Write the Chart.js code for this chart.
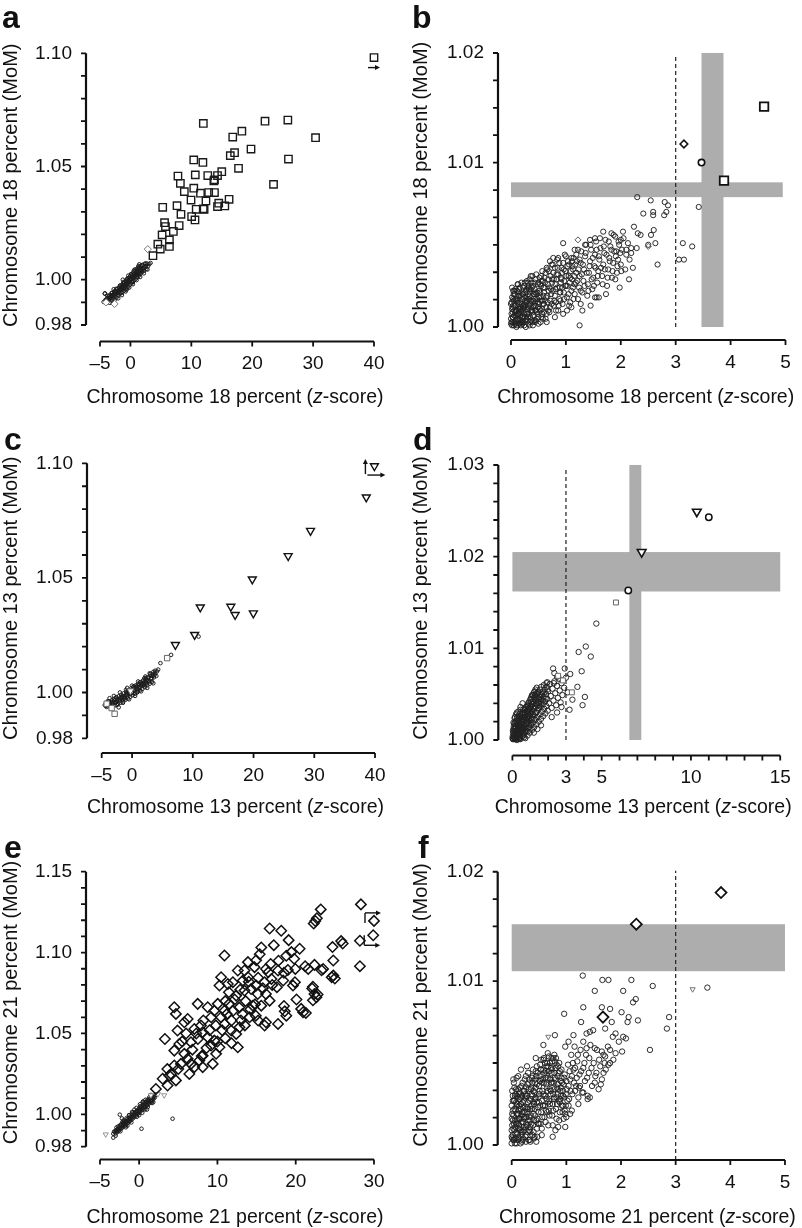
<!DOCTYPE html>
<html lang="en">
<head>
<meta charset="UTF-8" />
<title>Chromosome percent: z-score vs MoM</title>
<script src="https://cdn.jsdelivr.net/npm/chart.js"></script>
<style>
  body { margin: 0; background: #fff; width: 802px; height: 1228px; position: relative; overflow: hidden; }
  canvas { position: absolute; }
  .letter { position: absolute; font: bold 32px "Liberation Sans", Arial, sans-serif; line-height: 1; color: #111; }
</style>
</head>
<body>
<canvas id="pa" width="401" height="410" style="left:0;top:0"></canvas>
<canvas id="pb" width="401" height="410" style="left:401px;top:0"></canvas>
<canvas id="pc" width="401" height="410" style="left:0;top:410px"></canvas>
<canvas id="pd" width="401" height="410" style="left:401px;top:410px"></canvas>
<canvas id="pe" width="401" height="408" style="left:0;top:820px"></canvas>
<canvas id="pf" width="401" height="408" style="left:401px;top:820px"></canvas>
<div class="letter" style="left:2px;top:1px">a</div>
<div class="letter" style="left:412px;top:1px">b</div>
<div class="letter" style="left:4px;top:423px">c</div>
<div class="letter" style="left:413px;top:423px">d</div>
<div class="letter" style="left:4px;top:831px">e</div>
<div class="letter" style="left:418px;top:831px">f</div>
<script>
// ---------- tick positions ----------
const xTicksWide = [-5, 0, 10, 20, 30, 40];
const xTicksE = [-5, 0, 10, 20, 30];
const xTicks05 = [0, 1, 2, 3, 4, 5];
const xTicksD = [0, 3, 5, 10, 15];
const xMinorD = [0, 1, 2, 3, 4, 5, 6, 7, 8, 9, 10, 11, 12, 13, 14, 15];
const yTicksAC = [0.98, 1.00, 1.05, 1.10];
const yMinorAC = [0.98, 0.99, 1.00, 1.01, 1.02, 1.03, 1.04, 1.05, 1.06, 1.07, 1.08, 1.09, 1.10];
const yTicksE = [0.98, 1.00, 1.05, 1.10, 1.15];
const yMinorE = [0.98, 0.99, 1.00, 1.01, 1.02, 1.03, 1.04, 1.05, 1.06, 1.07, 1.08, 1.09, 1.10, 1.11, 1.12, 1.13, 1.14, 1.15];
const yTicksBF = [1.00, 1.01, 1.02];
const yMinorBF = [1.0, 1.00167, 1.00333, 1.005, 1.00667, 1.00833, 1.01, 1.0125, 1.015, 1.0175, 1.02];
const yTicksD = [1.00, 1.01, 1.02, 1.03];
const yMinorD = [1.000, 1.002, 1.004, 1.006, 1.008, 1.010, 1.012, 1.014, 1.016, 1.018, 1.020, 1.022, 1.024, 1.026, 1.028, 1.030];
// the zoomed MoM axes of b and f are stretched below 1.01
const knotValsBF = [1.00, 1.01, 1.02];
const knotPosBF = [0, 0.6, 1];

// ---------- panel a : chromosome 18 ----------
const aT18 = [[40.0,1.0981],[11.97,1.0690],[22.1,1.0700],[25.85,1.0705],[18.3,1.0656],[16.8,1.0630],[30.4,1.0627],
  [19.8,1.0577],[17.1,1.0561],[16.4,1.0548],[25.95,1.0533],[10.4,1.0529],[11.9,1.0518],[17.75,1.0492],[7.8,1.0458],
  [10.65,1.0463],[12.7,1.0460],[14.3,1.0460],[15.0,1.0477],[13.8,1.0441],[8.2,1.0426],[23.5,1.0421],[8.85,1.0389],
  [10.4,1.0404],[11.5,1.0382],[12.85,1.0385],[13.8,1.0385],[9.95,1.0352],[12.4,1.0348],[14.5,1.0338],[16.2,1.0355],
  [15.5,1.0326],[5.3,1.0320],[7.65,1.0327],[10.8,1.0311],[11.95,1.0313],[8.3,1.0289],[10.05,1.0279],[10.6,1.0264],
  [5.6,1.0252],[5.75,1.0235],[8.0,1.0239],[7.05,1.0213],[5.2,1.0198],[6.4,1.0176],[4.5,1.0157],[6.4,1.0147],
  [3.7,1.0106],[14.3,1.0323],[13.7,1.0436],[4.9,1.0135],[12.1,1.0311]];
const aOther = [[2.85,1.0135],[-4.0,0.9900],[-2.6,0.9893]];
const aNormal = [[-4.4,0.9902],[-4.2,0.9938],[-4.1,0.9911],[-3.9,0.9897],[-3.8,0.9919],[-3.6,0.9908],[-3.5,0.9930],
  [-3.4,0.9915],[-3.2,0.9926],[-3.1,0.9941],[-3.0,0.9912],[-2.9,0.9933],[-2.8,0.9920],[-2.7,0.9946],[-2.6,0.9929],
  [-2.5,0.9952],[-2.4,0.9937],[-2.3,0.9921],[-2.2,0.9958],[-2.1,0.9943],[-2.0,0.9930],[-1.9,0.9964],[-1.85,0.9949],
  [-1.7,0.9938],[-1.65,0.9971],[-1.5,0.9955],[-1.45,0.9942],[-1.3,0.9979],[-1.25,0.9962],[-1.1,0.9950],[-1.05,0.9986],
  [-0.95,0.9969],[-0.85,0.9957],[-0.8,0.9993],[-0.7,0.9976],[-0.6,0.9962],[-0.55,1.0001],[-0.45,0.9984],[-0.35,0.9969],
  [-0.3,1.0008],[-0.2,0.9991],[-0.1,0.9977],[-0.05,1.0016],[0.05,0.9998],[0.15,0.9983],[0.2,1.0023],[0.3,1.0006],
  [0.4,0.9990],[0.45,1.0031],[0.55,1.0013],[0.65,0.9998],[0.7,1.0038],[0.8,1.0020],[0.9,1.0005],[0.95,1.0045],
  [1.05,1.0027],[1.15,1.0012],[1.2,1.0051],[1.3,1.0034],[1.4,1.0019],[1.45,1.0057],[1.55,1.0040],[1.65,1.0026],
  [1.7,1.0062],[1.8,1.0046],[1.9,1.0033],[2.0,1.0066],[2.1,1.0052],[2.2,1.0040],[2.35,1.0070],[2.45,1.0057],
  [2.6,1.0047],[2.75,1.0071],[2.9,1.0060],[3.1,1.0069],[3.3,1.0074],[-1.0,0.9972],[-0.4,0.9992],[0.25,1.0010],
  [0.85,1.0031],[1.5,1.0044],[-2.2,0.9940],[-1.6,0.9958],[0.6,1.0024],[1.1,1.0040],[0.0,1.0003],[-0.6,0.9982],
  [1.75,1.0051],[-3.0,0.9925],[-4.2,0.9940],
  [-4.0,0.9910],[-3.7,0.9915],[-3.3,0.9923],[-2.95,0.9930],[-2.65,0.9935],[-2.35,0.9945],[-2.05,0.9950],
  [-1.75,0.9957],[-1.55,0.9963],[-1.35,0.9967],[-1.15,0.9973],[-0.9,0.9978],[-0.75,0.9984],[-0.5,0.9987],
  [-0.25,0.9994],[-0.15,1.0000],[0.1,1.0002],[0.35,1.0008],[0.5,1.0012],[0.75,1.0016],[1.0,1.0021],[1.25,1.0027],
  [1.35,1.0045],[1.6,1.0033],[1.85,1.0040],[2.05,1.0046],[2.3,1.0052],[2.55,1.0060],[-0.65,1.0000],[-1.2,0.9985],
  [-1.8,0.9968],[-2.5,0.9947],[-3.2,0.9932],[0.3,1.0018],[0.9,1.0026],[-0.3,0.9995],[-3.6,0.9925],[1.2,1.0030],
  [-2.0,0.9940],[-1.4,0.9955],
  [-3.8,0.9930],[-3.4,0.9898],[-3.0,0.9942],[-2.6,0.9910],[-2.3,0.9960],[-2.0,0.9918],[-1.7,0.9975],[-1.4,0.9932],
  [-1.1,0.9990],[-0.8,0.9948],[-0.5,1.0005],[-0.2,0.9965],[0.1,1.0025],[0.4,0.9980],[0.7,1.0045],[1.0,0.9998],
  [1.3,1.0060],[1.6,1.0012],[1.9,1.0063],[2.2,1.0028],[2.5,1.0072],[2.8,1.0045],[-1.25,1.0000],[-0.35,1.0018],
  [0.55,1.0040],[-2.75,0.9958],[-3.25,0.9905],[0.25,0.9990],[1.45,1.0068],[-0.65,0.9955]];

// ---------- panel b : chromosome 18, zoom ----------
const bT18 = [[4.61,1.0151],[3.88,1.0089]];
const bFlagCircle = [[3.47,1.0100]];
const bFlagDiamond = [[3.15,1.0117]];
const bOther = [[1.22,1.0053],[2.5,1.0049]];
const bNormal = [[0.02,1.0001],[0.04,1.0006],[0.03,1.0012],[0.06,1.0003],[0.08,1.0009],[0.05,1.0016],[0.1,1.0000],
  [0.11,1.0005],[0.09,1.0013],[0.12,1.0019],[0.14,1.0002],[0.15,1.0008],[0.13,1.0011],[0.17,1.0015],[0.18,1.0001],
  [0.2,1.0006],[0.19,1.0010],[0.21,1.0017],[0.23,1.0003],[0.24,1.0008],[0.22,1.0013],[0.26,1.0021],[0.27,1.0000],
  [0.28,1.0005],[0.3,1.0011],[0.29,1.0016],[0.32,1.0002],[0.33,1.0008],[0.35,1.0014],[0.34,1.0019],[0.37,1.0004],
  [0.38,1.0010],[0.36,1.0023],[0.4,1.0001],[0.41,1.0007],[0.42,1.0013],[0.44,1.0017],[0.45,1.0004],[0.46,1.0010],
  [0.48,1.0021],[0.5,1.0006],[0.49,1.0015],[0.07,1.0020],[0.01,1.0008],[0.16,1.0024],[0.25,1.0027],[0.0,1.0014],
  [0.02,1.0018],[0.11,1.0022],[0.31,1.0024],[0.03,1.0003],[0.06,1.0010],[0.09,1.0004],[0.12,1.0008],[0.15,1.0005],
  [0.18,1.0012],[0.21,1.0002],[0.24,1.0014],[0.27,1.0009],[0.3,1.0004],[0.33,1.0017],[0.36,1.0012],[0.39,1.0003],
  [0.42,1.0020],[0.45,1.0013],[0.48,1.0008],[0.51,1.0022],[0.54,1.0003],[0.57,1.0016],[0.6,1.0009],[0.04,1.0022],
  [0.13,1.0026],[0.22,1.0020],[0.31,1.0020],[0.4,1.0025],[0.08,1.0017],[0.17,1.0007],[0.26,1.0013],[0.35,1.0006],
  [0.44,1.0010],[0.52,1.0011],[0.54,1.0018],[0.55,1.0025],[0.57,1.0008],[0.58,1.0014],[0.6,1.0021],[0.61,1.0030],
  [0.63,1.0005],[0.64,1.0012],[0.66,1.0019],[0.67,1.0026],[0.69,1.0034],[0.7,1.0009],[0.72,1.0016],[0.73,1.0023],
  [0.75,1.0029],[0.76,1.0038],[0.78,1.0013],[0.8,1.0019],[0.81,1.0026],[0.83,1.0032],[0.84,1.0041],[0.86,1.0010],
  [0.88,1.0017],[0.89,1.0024],[0.91,1.0030],[0.92,1.0036],[0.94,1.0014],[0.96,1.0021],[0.97,1.0028],[0.99,1.0034],
  [1.0,1.0043],[1.02,1.0018],[1.03,1.0025],[1.05,1.0031],[1.06,1.0038],[1.08,1.0015],[1.1,1.0022],[1.11,1.0029],
  [1.13,1.0035],[1.14,1.0042],[1.16,1.0020],[1.18,1.0027],[1.19,1.0033],[0.65,1.0003],[0.8,1.0006],[0.95,1.0008],
  [1.1,1.0012],[1.22,1.0017],[1.24,1.0024],[1.25,1.0031],[1.27,1.0039],[1.28,1.0046],[1.3,1.0021],[1.32,1.0028],
  [1.33,1.0035],[1.35,1.0043],[1.37,1.0050],[1.39,1.0019],[1.4,1.0026],[1.42,1.0033],[1.44,1.0040],[1.46,1.0047],
  [1.48,1.0023],[1.5,1.0030],[1.52,1.0037],[1.53,1.0044],[1.55,1.0052],[1.57,1.0027],[1.59,1.0034],[1.61,1.0041],
  [1.63,1.0048],[1.66,1.0031],[1.68,1.0038],[1.7,1.0045],[1.72,1.0053],[1.75,1.0025],[1.77,1.0035],[1.79,1.0042],
  [1.81,1.0049],[1.84,1.0030],[1.86,1.0039],[1.88,1.0046],[1.9,1.0055],[1.93,1.0033],[1.95,1.0041],[1.97,1.0050],
  [2.0,1.0038],[2.02,1.0047],[2.05,1.0054],[2.08,1.0035],[2.1,1.0044],[2.13,1.0051],[2.16,1.0041],[2.19,1.0048],
  [1.45,1.0013],[1.6,1.0018],[1.73,1.0020],[1.3,1.0010],[2.30,1.0079],[2.545,1.0077],[2.8,1.0076],[2.86,1.0074],
  [3.42,1.0073],[2.41,1.0069],[2.59,1.0070],[2.59,1.0068],[2.79,1.0068],[2.83,1.0070],[2.24,1.0061],[2.6,1.0059],
  [2.31,1.0057],[2.36,1.0056],[2.55,1.0056],[2.04,1.0058],[1.83,1.0057],[1.68,1.0058],[2.63,1.0051],[2.5,1.0050],
  [2.29,1.0048],[3.13,1.0051],[3.30,1.0049],[3.06,1.0041],[3.15,1.0041],[2.67,1.0038],[2.22,1.0036],[2.15,1.0029],
  [1.98,1.0024],[0.95,1.0051],[1.25,1.0001],[0.77,1.0042],[0.71,1.0040],[0.65,1.0036],[0.36,1.0031],[0.31,1.0027],
  [1.53,1.0018],[1.27,1.0014],[1.56,1.0018],[2.0,1.0053],[2.1,1.0047],[2.19,1.0045],[1.92,1.0046],[2.01,1.0034],
  [1.9,1.0029],[1.53,1.0054],[1.44,1.0053],[1.35,1.0050],[1.16,1.0047],[1.1,1.0042]];
const bNormalCore = [[0.01,1.0003],[0.03,1.0009],[0.05,1.0001],[0.07,1.0013],[0.09,1.0007],[0.11,1.0016],[0.13,1.0004],
  [0.15,1.0019],[0.17,1.0011],[0.19,1.0003],[0.21,1.0020],[0.23,1.0012],[0.25,1.0006],[0.27,1.0018],[0.29,1.0008],
  [0.0,1.0005],[0.02,1.0011],[0.04,1.0017],[0.06,1.0022],[0.08,1.0002],[0.1,1.0010],[0.12,1.0015],[0.14,1.0021],
  [0.16,1.0004],[0.18,1.0009],[0.2,1.0014],[0.22,1.0024],[0.24,1.0001],[0.26,1.0016],[0.28,1.0023],[0.31,1.0006],
  [0.33,1.0013],[0.35,1.0021],[0.37,1.0027],[0.39,1.0009],[0.41,1.0016],[0.43,1.0023],[0.45,1.0029],[0.47,1.0005],
  [0.49,1.0012],[0.51,1.0018],[0.53,1.0026],[0.55,1.0031],[0.57,1.0011],[0.59,1.0019],[0.61,1.0024],[0.63,1.0033],
  [0.65,1.0008],[0.67,1.0015],[0.69,1.0022],[0.32,1.0025],[0.38,1.0016],[0.44,1.0003],[0.5,1.0027],[0.56,1.0006],
  [0.62,1.0016],[0.68,1.0029],[0.34,1.0001],[0.46,1.0020],[0.58,1.0028],[0.71,1.0012],[0.73,1.0020],[0.75,1.0027],
  [0.77,1.0033],[0.79,1.0016],[0.81,1.0023],[0.83,1.0029],[0.85,1.0036],[0.87,1.0013],[0.89,1.0021],[0.91,1.0027],
  [0.93,1.0033],[0.95,1.0039],[0.97,1.0017],[0.99,1.0025],[1.01,1.0031],[1.03,1.0037],[1.05,1.0020],[1.07,1.0027],
  [1.09,1.0034],[1.11,1.0040],[1.13,1.0024],[1.15,1.0031],[1.17,1.0038],[1.19,1.0044],[1.21,1.0028],[1.23,1.0035],
  [1.25,1.0041],[1.27,1.0022],[1.29,1.0032],[0.74,1.0038],[0.82,1.0010],[0.9,1.0016],[0.98,1.0044],[1.06,1.0013],
  [1.14,1.0017],[1.22,1.0047],[0.86,1.0042],[0.94,1.0024],[1.02,1.0010],[1.31,1.0038],[1.34,1.0025],[1.36,1.0045],
  [1.38,1.0033],[1.41,1.0022],[1.43,1.0037],[1.45,1.0050],[1.47,1.0029],[1.49,1.0042],[1.51,1.0025],[1.54,1.0036],
  [1.56,1.0047],[1.58,1.0031],[1.6,1.0043],[1.62,1.0054],[1.64,1.0036],[1.67,1.0026],[1.69,1.0049],[1.71,1.0035],
  [1.74,1.0044],[1.76,1.0030],[1.78,1.0052],[1.8,1.0040],[1.83,1.0047],[1.85,1.0034],[1.87,1.0056],[1.91,1.0043],
  [1.94,1.0037],[1.96,1.0052],[1.99,1.0045],
  [0.0,1.0002],[0.01,1.0015],[0.02,1.0024],[0.03,1.0006],[0.04,1.0013],[0.05,1.0020],[0.06,1.0007],[0.07,1.0002],
  [0.08,1.0023],[0.09,1.0010],[0.1,1.0017],[0.11,1.0001],[0.12,1.0026],[0.13,1.0008],[0.14,1.0014],[0.15,1.0023],
  [0.16,1.0011],[0.17,1.0002],[0.18,1.0019],[0.19,1.0027],[0.2,1.0003],[0.21,1.0011],[0.22,1.0006],[0.23,1.0018],
  [0.24,1.0025],[0.25,1.0012],[0.26,1.0004],[0.27,1.0022],[0.28,1.0015],[0.29,1.0028],[0.3,1.0008],[0.31,1.0017],
  [0.32,1.0012],[0.33,1.0023],[0.34,1.0029],[0.35,1.0003],[0.36,1.0016],[0.37,1.0010],[0.38,1.0024],[0.39,1.0031],
  [0.4,1.0012],[0.41,1.0020],[0.42,1.0004],[0.43,1.0027],[0.44,1.0015],[0.45,1.0021],[0.46,1.0032],[0.47,1.0009],
  [0.48,1.0017],[0.49,1.0026],[0.5,1.0002],[0.51,1.0014],[0.52,1.0030],[0.53,1.0021],[0.54,1.0010],[0.55,1.0016],
  [0.56,1.0028],[0.57,1.0034],[0.58,1.0005],[0.59,1.0024],[0.6,1.0014],[0.62,1.0027],[0.64,1.0018],[0.66,1.0035],
  [0.68,1.0010],[0.7,1.0024],[0.72,1.0031],[0.74,1.0014],[0.76,1.0022],[0.78,1.0029],[0.8,1.0036],[0.82,1.0015],
  [0.84,1.0024],[0.86,1.0032],[0.88,1.0039],[0.9,1.0021],[0.92,1.0029],[0.96,1.0035],[1.0,1.0025],[1.04,1.0040],
  [1.08,1.0030],[1.12,1.0037],[1.16,1.0026],[1.2,1.0040]];

// ---------- panel c : chromosome 13 ----------
const cT13 = [[39.9,1.0988],[38.56,1.0852],[29.38,1.0706],[25.7,1.0596],[19.8,1.0494],[11.23,1.0372],[16.26,1.0375],
  [16.97,1.0339],[19.97,1.0346],[10.3,1.0252],[7.13,1.0208]];
const cT13Low = [[-0.25,1.0007]];
const cOther = [[5.77,1.0150],[-4.18,0.9951],[-2.87,0.9907],[-3.36,0.9932]];
const cNormal = [[-4.5,0.9945],[-4.3,0.9941],[-4.1,0.9955],[-3.9,0.9946],[-3.8,0.9961],[-3.6,0.9952],[-3.5,0.9940],
  [-3.3,0.9966],[-3.2,0.9951],[-3.0,0.9972],[-2.9,0.9958],[-2.8,0.9944],[-2.6,0.9977],[-2.5,0.9963],[-2.3,0.9950],
  [-2.2,0.9983],[-2.0,0.9969],[-1.9,0.9955],[-1.8,0.9990],[-1.6,0.9975],[-1.5,0.9961],[-1.4,0.9996],[-1.2,0.9982],
  [-1.1,0.9968],[-1.0,1.0003],[-0.85,0.9988],[-0.7,0.9974],[-0.6,1.0010],[-0.45,0.9995],[-0.3,0.9981],[-0.2,1.0017],
  [-0.05,1.0002],[0.1,0.9988],[0.2,1.0024],[0.35,1.0009],[0.5,0.9995],[0.6,1.0031],[0.75,1.0016],[0.9,1.0002],
  [1.0,1.0038],[1.15,1.0023],[1.3,1.0009],[1.4,1.0045],[1.55,1.0030],[1.7,1.0016],[1.8,1.0052],[1.95,1.0037],
  [2.1,1.0023],[2.2,1.0059],[2.35,1.0044],[2.5,1.0031],[2.6,1.0066],[2.75,1.0051],[2.9,1.0038],[3.0,1.0073],
  [3.15,1.0058],[3.3,1.0046],[3.4,1.0080],[3.6,1.0066],[3.8,1.0083],[4.0,1.0072],[4.1,1.0092],[3.5,1.0090],
  [2.9,1.0084],[4.3,1.0100],[-1.3,0.9975],[-0.4,1.0003],[0.4,1.0020],[1.2,1.0035],[2.0,1.0047],[-2.4,0.9968],
  [-3.4,0.9955],[0.0,1.0012],[0.8,1.0028],[1.6,1.0041],[2.4,1.0055],[-0.8,0.9996],[-1.7,0.9980],[3.2,1.0064],
  [-4.2,0.9937],[-3.9,0.9954],[-3.6,0.9945],[-3.2,0.9958],[-2.95,0.9965],[-2.7,0.9955],[-2.4,0.9972],[-2.1,0.9962],
  [-1.85,0.9978],[-1.55,0.9985],[-1.3,0.9972],[-1.05,0.9990],[-0.8,0.9982],[-0.55,0.9998],[-0.3,0.9992],
  [-0.1,1.0010],[0.15,1.0003],[0.4,1.0013],[0.65,1.0022],[0.9,1.0015],[1.1,1.0030],[1.35,1.0022],[1.6,1.0036],
  [1.85,1.0030],[2.1,1.0045],[2.35,1.0038],[2.6,1.0052],[2.85,1.0046],[3.1,1.0062],[3.4,1.0072],[3.7,1.0076],
  [-0.7,1.0005],[0.3,1.0027],[1.3,1.0044],[2.3,1.0064],[-1.6,0.9968],[-2.6,0.9980],[0.0,0.9998],[1.0,1.0008],
  [2.0,1.0034],[10.95,1.0244],[6.43,1.0164],[4.67,1.0128],
  [-4.0,0.9962],[-3.5,0.9932],[-3.0,0.9985],[-2.5,0.9945],[-2.0,1.0000],[-1.5,0.9955],[-1.0,1.0012],[-0.5,0.9970],
  [0.0,1.0030],[0.5,0.9985],[1.0,1.0048],[1.5,1.0005],[2.0,1.0062],[2.5,1.0020],[3.0,1.0080],[3.5,1.0040],
  [-3.7,0.9975],[-2.2,0.9935],[-0.8,1.0020],[0.8,1.0000],[2.2,1.0070],[3.8,1.0095]];

// ---------- panel d : chromosome 13, zoom ----------
const dT13 = [[10.33,1.0249],[7.24,1.0205]];
const dFlagCircle = [[11.0,1.0243],[6.49,1.0163]];
const dOther = [[5.8,1.0150],[2.56,1.0070],[2.83,1.0065],[3.33,1.0052]];
const dNormal = [[0.05,1.0001],[0.1,1.0006],[0.12,1.0002],[0.15,1.0010],[0.2,1.0004],[0.22,1.0013],[0.25,1.0000],
  [0.28,1.0008],[0.3,1.0016],[0.33,1.0003],[0.35,1.0011],[0.38,1.0019],[0.4,1.0006],[0.43,1.0014],[0.45,1.0001],
  [0.47,1.0022],[0.5,1.0009],[0.52,1.0017],[0.55,1.0004],[0.57,1.0025],[0.6,1.0012],[0.62,1.0020],[0.65,1.0007],
  [0.68,1.0028],[0.7,1.0015],[0.72,1.0002],[0.75,1.0023],[0.78,1.0010],[0.8,1.0031],[0.82,1.0018],[0.85,1.0005],
  [0.88,1.0026],[0.9,1.0013],[0.92,1.0034],[0.95,1.0021],[0.98,1.0008],[0.08,1.0015],[0.18,1.0020],[0.03,1.0010],
  [0.27,1.0024],[0.42,1.0029],[0.6,1.0033],[0.02,1.0004],[0.07,1.0009],[0.13,1.0001],[0.17,1.0006],[0.23,1.0010],
  [0.32,1.0007],[0.37,1.0001],[0.46,1.0012],[0.53,1.0009],[0.63,1.0014],[0.73,1.0011],[0.83,1.0024],[0.93,1.0018],
  [0.5,1.0026],[0.7,1.0030],[0.9,1.0040],[1.05,1.0045],[1.2,1.0008],[0.3,1.0022],[0.15,1.0018],
  [1.0,1.0029],[1.03,1.0016],[1.05,1.0037],[1.08,1.0024],[1.1,1.0011],[1.12,1.0032],[1.15,1.0019],[1.18,1.0040],
  [1.2,1.0027],[1.22,1.0014],[1.25,1.0035],[1.28,1.0022],[1.3,1.0043],[1.33,1.0030],[1.35,1.0017],[1.38,1.0038],
  [1.4,1.0025],[1.42,1.0046],[1.45,1.0033],[1.48,1.0020],[1.5,1.0041],[1.53,1.0028],[1.55,1.0049],[1.58,1.0036],
  [1.6,1.0023],[1.63,1.0044],[1.65,1.0031],[1.68,1.0052],[1.7,1.0039],[1.72,1.0026],[1.75,1.0047],[1.78,1.0034],
  [1.8,1.0055],[1.83,1.0042],[1.85,1.0029],[1.88,1.0050],[1.9,1.0037],[1.93,1.0058],[1.95,1.0045],[1.98,1.0032],
  [1.1,1.0049],[1.25,1.0053],[1.4,1.0012],[1.6,1.0016],[2.0,1.0053],[2.05,1.0040],[2.1,1.0061],[2.15,1.0048],
  [2.2,1.0035],[2.25,1.0056],[2.3,1.0043],[2.35,1.0064],[2.4,1.0051],[2.45,1.0038],[2.5,1.0059],[2.55,1.0046],
  [2.6,1.0067],[2.65,1.0054],[2.7,1.0041],[2.75,1.0062],[2.8,1.0049],[2.9,1.0057],[3.0,1.0068],[3.1,1.0052],
  [2.2,1.0025],[2.5,1.0030],[2.75,1.0036],[2.35,1.0073],[3.88,1.0075],[2.28,1.0078],[2.93,1.0078],[3.24,1.0072],
  [2.5,1.0069],[3.64,1.0058],[4.06,1.0047],[3.93,1.0038],[3.2,1.0033],[3.36,1.0044],[1.4,1.0052],[1.95,1.0063],
  [2.32,1.0062],[3.71,1.0096],[4.11,1.0102],[4.39,1.0091],[4.70,1.0127]];
const dNormalCore = [[0.04,1.0007],[0.09,1.0003],[0.11,1.0012],[0.14,1.0006],[0.16,1.0015],[0.19,1.0009],[0.21,1.0002],
  [0.24,1.0017],[0.26,1.0011],[0.29,1.0004],[0.31,1.0019],[0.34,1.0013],[0.36,1.0006],[0.39,1.0022],[0.41,1.0015],
  [0.44,1.0008],[0.46,1.0025],[0.49,1.0018],[0.51,1.0011],[0.54,1.0028],[0.56,1.0020],[0.59,1.0013],[0.61,1.0030],
  [0.64,1.0023],[0.66,1.0016],[0.69,1.0033],[0.71,1.0025],[0.74,1.0018],[0.76,1.0036],[0.79,1.0028],[0.81,1.0021],
  [0.84,1.0038],[0.86,1.0030],[0.89,1.0023],[0.91,1.0041],[0.94,1.0033],[0.96,1.0026],[0.99,1.0044],[1.01,1.0036],
  [1.04,1.0029],[1.06,1.0047],[1.09,1.0039],[1.11,1.0031],[1.14,1.0049],[1.16,1.0042],[1.19,1.0034],[1.21,1.0052],
  [1.24,1.0044],[1.26,1.0037],[1.29,1.0055],[1.31,1.0047],[1.34,1.0040],[1.36,1.0057],[1.39,1.0050],[1.41,1.0042],
  [1.44,1.0035],[1.46,1.0052],[1.49,1.0045],[1.51,1.0037],[1.54,1.0055],[1.56,1.0047],[1.59,1.0040],[1.61,1.0058],
  [1.66,1.0050],[1.71,1.0043],[1.76,1.0060],[1.81,1.0052],[1.86,1.0045],[1.91,1.0062],[1.96,1.0055],[0.06,1.0019],
  [0.12,1.0024],[0.2,1.0028],[0.33,1.0031],[0.45,1.0036],[0.57,1.0040],[0.03,1.0001],[0.18,1.0001],[0.4,1.0002],
  [0.6,1.0005],
  [0.01,1.0002],[0.06,1.0012],[0.1,1.0018],[0.14,1.0003],[0.19,1.0014],[0.23,1.0021],[0.27,1.0005],[0.31,1.0012],
  [0.35,1.0026],[0.39,1.0015],[0.43,1.0003],[0.47,1.0018],[0.51,1.0029],[0.55,1.0014],[0.59,1.0022],[0.63,1.0008],
  [0.67,1.0025],[0.71,1.0034],[0.75,1.0013],[0.79,1.0020],[0.83,1.0032],[0.87,1.0037],[0.91,1.0027],[0.95,1.0014],
  [0.99,1.0034],[1.03,1.0041],[1.07,1.0022],[1.11,1.0039],[1.15,1.0028],[1.19,1.0046],[1.23,1.0023],[1.27,1.0049],
  [1.31,1.0030],[1.35,1.0050],[0.25,1.0030],[0.45,1.0033],[0.65,1.0003],[0.85,1.0009],[1.05,1.0017],[0.15,1.0025]];

// ---------- panel e : chromosome 21 ----------
const eT21 = [[28.33,1.1298],[23.2,1.1267],[22.7,1.1212],[22.3,1.1180],[22.5,1.1195],[30.0,1.1196],[29.9,1.1107],
  [28.2,1.1073],[28.2,1.0916],[16.67,1.1149],[18.15,1.1135],[19.1,1.1077],[17.2,1.1046],[15.6,1.1032],[15.4,1.0990],
  [14.95,1.0953],[20.5,1.1024],[19.45,1.1003],[19.8,1.0962],[10.9,1.0982],[25.8,1.1071],[24.7,1.1034],[24.8,1.0951],
  [24.8,1.0858],[24.6,1.0848],[23.5,1.0899],[22.4,1.0924],[21.6,1.0899],[21.2,1.0916],[19.95,1.0899],[19.0,1.0893],
  [18.5,1.0875],[17.74,1.0889],[16.2,1.0899],[16.5,1.0878],[16.9,1.0837],[18.4,1.0827],[19.9,1.0817],[19.65,1.0796],
  [17.6,1.0786],[15.2,1.0845],[16.03,1.0817],[14.95,1.0796],[13.9,1.0941],[14.74,1.0910],[13.46,1.0889],[12.6,1.0889],
  [11.97,1.0817],[13.25,1.0827],[13.9,1.0848],[10.47,1.0848],[11.33,1.0806],[10.26,1.0796],[11.46,1.0755],[12.4,1.0734],
  [13.46,1.0765],[14.3,1.0775],[15.15,1.0744],[16.2,1.0744],[16.67,1.0703],[15.6,1.0672],[14.53,1.0672],[22.2,1.0789],
  [22.4,1.0744],[22.65,1.0724],[20.7,1.0652],[20.94,1.0631],[18.6,1.0637],[18.8,1.0610],[17.74,1.0559],[16.2,1.0569],
  [16.03,1.0549],[15.2,1.0580],[13.0,1.0580],[14.1,1.0600],[12.82,1.0538],[12.4,1.0497],[11.76,1.0518],[10.9,1.0559],
  [10.04,1.0683],[9.6,1.0641],[8.76,1.0662],[9.2,1.0600],[10.47,1.0600],[10.9,1.0641],[11.5,1.0683],[7.9,1.0549],
  [7.05,1.0528],[8.12,1.0508],[8.76,1.0477],[7.5,1.0466],[6.62,1.0446],[9.6,1.0456],[10.26,1.0415],[9.2,1.0425],
  [9.83,1.0374],[12.6,1.0415],[7.48,1.0683],[5.77,1.0569],[6.2,1.0590],[4.9,1.0518],[4.49,1.0662],[4.7,1.0621],
  [3.29,1.0466],[4.49,1.0394],[5.13,1.0435],[5.77,1.0374],[6.2,1.0343],[5.34,1.0312],[6.62,1.0312],[7.69,1.0333],
  [8.12,1.0363],[4.49,1.0302],[4.06,1.0250],[4.7,1.0210],[3.85,1.0240],[3.63,1.0178],[6.41,1.0250],[7.05,1.0292],
  [8.12,1.0292],[9.4,1.0312],[2.14,1.0157],[25.0,1.0840],[23.3,1.0891],[22.1,1.0778],[22.8,1.0741],[22.2,1.0705],
  [20.1,1.0710],[18.5,1.0670],[21.3,1.0627],[26.0,1.1056],[9.0,1.0520],[9.8,1.0550],[10.6,1.0520],[11.2,1.0620],
  [12.0,1.0640],[12.8,1.0660],[13.6,1.0700],[14.2,1.0650],[11.8,1.0580],[12.2,1.0710],[13.2,1.0620],[14.8,1.0680],
  [15.8,1.0780],[17.0,1.0800],[17.8,1.0950],[18.8,1.0980],[16.8,1.0930],[14.0,1.0820],[12.9,1.0770],[11.0,1.0700],
  [8.2,1.0580],[7.3,1.0500],[6.8,1.0400],[5.5,1.0450],[6.0,1.0500],[10.0,1.0450],[11.0,1.0470],[11.8,1.0440],
  [13.5,1.0550],[14.9,1.0610],[8.6,1.0410],[8.0,1.0360],[3.0,1.0220],[3.6,1.0280],[5.0,1.0280]];
const eOther = [[-4.27,0.9876],[1.5,1.0118],[3.2,1.0118],[2.4,1.0125]];
const eNormal = [[-3.3,0.9880],[-3.1,0.9895],[-3.0,0.9882],[-2.9,0.9904],[-2.8,0.9890],[-2.7,0.9912],[-2.6,0.9898],
  [-2.5,0.9925],[-2.4,0.9908],[-2.3,0.9932],[-2.2,0.9915],[-2.1,0.9940],[-2.0,0.9925],[-1.9,0.9951],[-1.8,0.9931],
  [-1.7,0.9958],[-1.6,0.9940],[-1.5,0.9970],[-1.4,0.9948],[-1.3,0.9977],[-1.2,0.9958],[-1.1,0.9988],[-1.0,0.9966],
  [-0.9,0.9995],[-0.8,0.9975],[-0.7,1.0005],[-0.6,0.9984],[-0.5,1.0014],[-0.4,0.9993],[-0.3,1.0022],[-0.2,1.0002],
  [-0.1,1.0031],[0.0,1.0011],[0.1,1.0040],[0.2,1.0019],[0.3,1.0049],[0.4,1.0028],[0.5,1.0058],[0.6,1.0037],
  [0.7,1.0066],[0.8,1.0046],[0.9,1.0076],[1.0,1.0055],[1.1,1.0084],[1.2,1.0064],[1.3,1.0093],[1.4,1.0073],
  [1.5,1.0101],[1.6,1.0082],[1.7,1.0108],[1.8,1.0092],[1.9,1.0115],[2.0,1.0104],[2.15,1.0122],[-2.45,0.9915],
  [-1.55,0.9955],[-0.65,0.9995],[0.25,1.0034],[1.15,1.0074],[-2.05,0.9933],[-1.15,0.9972],[-0.25,1.0012],
  [0.65,1.0052],[1.55,1.0090],[-2.75,0.9900],[-1.85,0.9942],[-0.95,0.9980],[-0.05,1.0020],[0.85,1.0062],
  [1.75,1.0100],[-0.35,1.0040],[0.45,1.0075],[-1.25,0.9995],[-2.15,0.9952],[4.27,0.9973],[-2.47,0.9998],
  [0.3,0.9911],[-3.3,0.9856],
  [-3.2,0.9893],[-2.95,0.9897],[-2.65,0.9908],[-2.35,0.9920],[-2.05,0.9945],[-1.75,0.9948],[-1.45,0.9962],
  [-1.15,0.9980],[-0.85,0.9985],[-0.55,1.0000],[-0.25,1.0020],[0.05,1.0026],[0.35,1.0040],[0.65,1.0045],
  [0.95,1.0060],[1.25,1.0080],[1.55,1.0088],[1.85,1.0105],[-1.95,0.9960],[-0.75,1.0012],[0.15,1.0050],
  [1.05,1.0090],[-2.4,0.9935],[-1.25,0.9960],[-0.15,1.0005],[0.75,1.0030],[1.65,1.0070],[-2.9,0.9918],
  [-1.6,0.9977],[0.55,1.0068],
  [-3.0,0.9868],[-2.7,0.9925],[-2.4,0.9895],[-2.0,0.9962],[-1.7,0.9920],[-1.3,0.9995],[-1.0,0.9950],[-0.6,1.0030],
  [-0.3,0.9985],[0.1,1.0062],[0.4,1.0010],[0.8,1.0090],[1.1,1.0045],[1.5,1.0120],[1.8,1.0075],[-2.2,0.9975],
  [-0.9,1.0015],[0.5,1.0080],[1.3,1.0105],[-1.5,0.9930],[0.0,0.9995],[1.0,1.0030]];

// ---------- panel f : chromosome 21, zoom ----------
const fT21 = [[3.83,1.0181],[2.28,1.0152],[1.67,1.0078]];
const fOther = [[3.31,1.0095],[0.67,1.0066]];
const fNormal = [[0.0,1.0001],[0.02,1.0006],[0.01,1.0012],[0.03,1.0018],[0.0,1.0024],[0.02,1.0030],[0.04,1.0003],
  [0.05,1.0009],[0.06,1.0015],[0.07,1.0021],[0.05,1.0027],[0.08,1.0034],[0.09,1.0001],[0.1,1.0007],[0.11,1.0013],
  [0.12,1.0019],[0.1,1.0025],[0.13,1.0031],[0.14,1.0004],[0.15,1.0010],[0.16,1.0016],[0.17,1.0022],[0.15,1.0028],
  [0.18,1.0036],[0.19,1.0002],[0.2,1.0008],[0.21,1.0014],[0.22,1.0020],[0.2,1.0026],[0.23,1.0033],[0.24,1.0040],
  [0.25,1.0005],[0.26,1.0011],[0.27,1.0017],[0.28,1.0023],[0.26,1.0030],[0.29,1.0037],[0.3,1.0044],[0.31,1.0003],
  [0.32,1.0009],[0.33,1.0015],[0.34,1.0022],[0.35,1.0028],[0.36,1.0035],[0.37,1.0041],[0.38,1.0006],[0.39,1.0012],
  [0.4,1.0019],[0.41,1.0025],[0.42,1.0032],[0.43,1.0038],[0.44,1.0045],[0.45,1.0002],[0.46,1.0010],[0.47,1.0016],
  [0.48,1.0023],[0.49,1.0029],[0.5,1.0036],[0.51,1.0042],[0.52,1.0049],[0.53,1.0013],[0.54,1.0020],[0.55,1.0027],
  [0.56,1.0033],[0.57,1.0040],[0.58,1.0046],[0.59,1.0053],[0.6,1.0017],[0.61,1.0024],[0.62,1.0030],[0.63,1.0037],
  [0.64,1.0043],[0.65,1.0050],[0.66,1.0056],[0.67,1.0012],[0.68,1.0021],[0.69,1.0027],[0.7,1.0034],[0.71,1.0040],
  [0.72,1.0047],[0.73,1.0053],[0.74,1.0018],[0.75,1.0025],[0.76,1.0031],[0.77,1.0038],[0.78,1.0044],[0.79,1.0051],
  [0.8,1.0009],[0.81,1.0022],[0.82,1.0029],[0.83,1.0035],[0.84,1.0042],[0.85,1.0048],[0.87,1.0015],[0.88,1.0026],
  [0.89,1.0033],[0.9,1.0039],[0.91,1.0046],[0.93,1.0020],[0.94,1.0030],[0.95,1.0037],[0.02,1.0015],[0.06,1.0004],
  [0.1,1.0019],[0.14,1.0012],[0.18,1.0006],[0.22,1.0027],[0.26,1.0002],[0.3,1.0015],[0.34,1.0008],[0.38,1.0030],
  [0.42,1.0005],[0.46,1.0026],[0.5,1.0013],[0.54,1.0040],[0.58,1.0024],[0.62,1.0045],[0.66,1.0033],[0.7,1.0050],
  [0.74,1.0038],[0.78,1.0055],[0.04,1.0038],[0.12,1.0042],[0.08,1.0026],[0.28,1.0048],[0.97,1.0043],[0.99,1.0024],
  [1.01,1.0034],[1.03,1.0049],[1.05,1.0028],[1.07,1.0040],[1.09,1.0055],[1.11,1.0031],[1.13,1.0046],[1.15,1.0060],
  [1.18,1.0036],[1.2,1.0051],[1.22,1.0025],[1.24,1.0043],[1.26,1.0058],[1.29,1.0032],[1.31,1.0047],[1.34,1.0039],
  [1.36,1.0055],[1.39,1.0030],[1.41,1.0044],[1.44,1.0061],[1.47,1.0036],[1.5,1.0050],[1.53,1.0042],[1.56,1.0058],
  [1.59,1.0034],[1.62,1.0048],[1.65,1.0040],[1.68,1.0055],[1.72,1.0046],[1.76,1.0060],[1.8,1.0050],[1.85,1.0066],
  [1.9,1.0056],[1.0,1.0017],[1.1,1.0021],[0.98,1.0011],[1.30,1.0105],[1.66,1.0101],[1.77,1.0101],[2.19,1.0101],
  [2.58,1.0097],[1.52,1.0094],[2.04,1.0094],[2.27,1.0089],[2.22,1.0087],[1.31,1.0084],[0.96,1.0080],[1.65,1.0084],
  [1.8,1.0083],[2.01,1.0081],[2.14,1.0078],[2.31,1.0076],[2.12,1.0075],[2.88,1.0078],[2.84,1.0071],[2.53,1.0058],
  [1.27,1.0075],[1.83,1.0075],[1.71,1.0071],[1.49,1.0070],[1.43,1.0069],[1.37,1.0068],[1.9,1.0068],[1.96,1.0063],
  [2.09,1.0065],[2.04,1.0066],[0.79,1.0067],[1.13,1.0067],[1.04,1.0063],[0.98,1.0060],[0.58,1.0061],[0.44,1.0053],
  [0.17,1.0046],[1.31,1.0063],[1.37,1.0059],[1.52,1.0059],[1.65,1.0057],[1.71,1.0054],[1.8,1.0058],[1.86,1.0052],
  [1.77,1.0049],[1.68,1.0044],[2.02,1.0057],[1.52,1.0038],[1.63,1.0037],[1.43,1.0029],[1.39,1.0028],[1.07,1.0019],
  [0.98,1.0019],[0.95,1.0016],[1.04,1.0024],[1.31,1.0032],[1.22,1.0029],[1.16,1.0033],[1.25,1.0036],[3.58,1.0096]];
const fNormalCore = [[0.01,1.0004],[0.03,1.0010],[0.02,1.0021],[0.04,1.0027],[0.01,1.0033],[0.03,1.0040],[0.06,1.0001],
  [0.07,1.0007],[0.08,1.0013],[0.09,1.0019],[0.07,1.0031],[0.09,1.0041],[0.11,1.0003],[0.12,1.0010],[0.13,1.0016],
  [0.14,1.0024],[0.12,1.0034],[0.16,1.0001],[0.17,1.0008],[0.18,1.0014],[0.19,1.0020],[0.17,1.0029],[0.2,1.0038],
  [0.21,1.0004],[0.22,1.0011],[0.23,1.0017],[0.24,1.0023],[0.25,1.0031],[0.26,1.0042],[0.27,1.0006],[0.28,1.0012],
  [0.29,1.0019],[0.3,1.0026],[0.31,1.0034],[0.32,1.0040],[0.33,1.0003],[0.34,1.0011],[0.35,1.0018],[0.36,1.0024],
  [0.37,1.0031],[0.38,1.0038],[0.39,1.0046],[0.4,1.0008],[0.41,1.0015],[0.42,1.0022],[0.43,1.0028],[0.44,1.0035],
  [0.45,1.0042],[0.46,1.0048],[0.47,1.0005],[0.48,1.0013],[0.49,1.0020],[0.5,1.0026],[0.51,1.0033],[0.52,1.0039],
  [0.53,1.0046],[0.54,1.0052],[0.55,1.0010],[0.56,1.0017],[0.57,1.0024],[0.58,1.0031],[0.59,1.0038],[0.6,1.0044],
  [0.61,1.0050],[0.62,1.0014],[0.63,1.0021],[0.64,1.0028],[0.65,1.0035],[0.66,1.0041],[0.67,1.0048],[0.68,1.0054],
  [0.69,1.0018],[0.7,1.0025],[0.71,1.0031],[0.72,1.0038],[0.73,1.0044],[0.74,1.0051],[0.75,1.0012],[0.76,1.0021],
  [0.77,1.0028],[0.78,1.0034],[0.79,1.0041],[0.8,1.0047],[0.81,1.0053],[0.82,1.0016],[0.83,1.0025],[0.84,1.0031],
  [0.85,1.0037],[0.86,1.0044],[0.87,1.0050],[0.88,1.0020],[0.89,1.0028],[0.9,1.0035],[0.91,1.0041],[0.92,1.0024],
  [0.94,1.0033],[0.96,1.0029],[0.97,1.0021],[0.99,1.0031],[1.0,1.0039],[1.02,1.0027],[1.04,1.0036],[1.06,1.0045],
  [1.08,1.0033],[1.1,1.0042],[1.12,1.0050],[1.14,1.0038],[1.16,1.0047],[1.19,1.0041],[1.21,1.0055],[1.23,1.0035],
  [1.27,1.0045],[1.33,1.0050],[1.38,1.0041],[1.42,1.0053],[1.46,1.0047],[1.55,1.0044],[1.6,1.0052],[1.7,1.0050],
  [0.0,1.0009],[0.0,1.0016],[0.05,1.0035],[0.1,1.0030],[0.15,1.0035],[0.22,1.0033],
  [0.0,1.0005],[0.01,1.0019],[0.02,1.0027],[0.03,1.0003],[0.04,1.0013],[0.05,1.0022],[0.06,1.0030],[0.07,1.0011],
  [0.08,1.0004],[0.09,1.0024],[0.1,1.0015],[0.11,1.0029],[0.12,1.0005],[0.13,1.0021],[0.14,1.0016],[0.15,1.0032],
  [0.16,1.0009],[0.17,1.0025],[0.18,1.0018],[0.19,1.0030],[0.2,1.0003],[0.21,1.0023],[0.22,1.0016],[0.23,1.0009],
  [0.24,1.0029],[0.25,1.0020],[0.26,1.0035],[0.27,1.0013],[0.28,1.0030],[0.29,1.0008],[0.3,1.0022],[0.31,1.0038],
  [0.32,1.0017],[0.33,1.0027],[0.34,1.0002],[0.35,1.0034],[0.36,1.0013],[0.37,1.0022],[0.38,1.0042],[0.39,1.0026],
  [0.4,1.0033],[0.41,1.0004],[0.42,1.0040],[0.43,1.0018],[0.44,1.0029],[0.46,1.0037],[0.48,1.0044],[0.5,1.0031],
  [0.52,1.0024],[0.54,1.0046],[0.56,1.0038],[0.58,1.0052],[0.6,1.0030],[0.62,1.0041],[0.64,1.0048],[0.66,1.0026],
  [0.68,1.0045],[0.7,1.0040],[0.72,1.0033],[0.74,1.0046],[0.76,1.0053],[0.78,1.0029],[0.8,1.0040],[0.82,1.0049],
  [0.84,1.0034],[0.86,1.0027],[0.88,1.0045],[0.9,1.0030],[0.92,1.0038],[0.94,1.0024],[0.96,1.0041],[0.45,1.0015],
  [0.55,1.0006],[0.65,1.0020],[0.75,1.0005],[0.85,1.0011]];

const FONT = '"Liberation Sans", Arial, Helvetica, sans-serif';
const INK = '#111';

class KnotScale extends Chart.LinearScale {
  static id = 'knot';
  static defaults = {};
  pos(v) {
    const kv = this.knotValues, kp = this.knotPos;
    if (!kv) return v;
    let i = 1;
    while (i < kv.length - 1 && v > kv[i]) i++;
    return kp[i - 1] + (v - kv[i - 1]) * (kp[i] - kp[i - 1]) / (kv[i] - kv[i - 1]);
  }
  getPixelForValue(v) {
    const lo = this.pos(this.min), hi = this.pos(this.max);
    return this.getPixelForDecimal((this.pos(v) - lo) / (hi - lo));
  }
  getValueForPixel(px) {
    const lo = this.pos(this.min), hi = this.pos(this.max);
    const p = lo + this.getDecimalForPixel(px) * (hi - lo);
    const kv = this.knotValues, kp = this.knotPos;
    if (!kv) return p;
    let i = 1;
    while (i < kp.length - 1 && p > kp[i]) i++;
    return kv[i - 1] + (p - kp[i - 1]) * (kv[i] - kv[i - 1]) / (kp[i] - kp[i - 1]);
  }
}
Chart.register(KnotScale);

function set(arr, style, r, color, bw, fill, rot) {
  return {
    data: arr.map(([x, y]) => ({x, y})),
    pointStyle: style, pointRadius: r, pointHoverRadius: r,
    pointBorderColor: color, pointBorderWidth: bw,
    pointBackgroundColor: fill || 'rgba(0,0,0,0)', pointRotation: rot || 0,
    showLine: false
  };
}

function arrow(ctx, x0, y0, x1, y1) {
  const a = Math.atan2(y1 - y0, x1 - x0);
  ctx.beginPath(); ctx.moveTo(x0, y0); ctx.lineTo(x1 - 3 * Math.cos(a), y1 - 3 * Math.sin(a)); ctx.stroke();
  ctx.beginPath();
  ctx.moveTo(x1, y1);
  ctx.lineTo(x1 - 5 * Math.cos(a) + 2.5 * Math.sin(a), y1 - 5 * Math.sin(a) - 2.5 * Math.cos(a));
  ctx.lineTo(x1 - 5 * Math.cos(a) - 2.5 * Math.sin(a), y1 - 5 * Math.sin(a) + 2.5 * Math.cos(a));
  ctx.closePath(); ctx.fill();
}

function framePlugin(s) {
  return {
    id: 'frame',
    beforeDatasetsDraw(chart) {
      const {ctx, chartArea: ca, scales: {x, y}} = chart;
      ctx.save();
      ctx.fillStyle = '#adadad';
      (s.bands || []).forEach(b => {
        const x0 = x.getPixelForValue(b.x0), x1 = x.getPixelForValue(b.x1);
        const y0 = y.getPixelForValue(b.y0), y1 = y.getPixelForValue(b.y1);
        ctx.fillRect(x0, y1, x1 - x0, y0 - y1);
      });
      if (s.cut) {
        const cx = x.getPixelForValue(s.cut.x);
        ctx.strokeStyle = '#222'; ctx.lineWidth = 1.2; ctx.setLineDash([4, 3]);
        ctx.beginPath();
        ctx.moveTo(cx, s.cut.y0 === null ? ca.bottom : y.getPixelForValue(s.cut.y0));
        ctx.lineTo(cx, y.getPixelForValue(s.cut.y1));
        ctx.stroke();
        ctx.setLineDash([]);
      }
      const xa = s.xMinor.map(v => x.getPixelForValue(v));
      const ya = s.yMinor.map(v => y.getPixelForValue(v));
      ctx.strokeStyle = '#111'; ctx.lineWidth = 2.2;
      ctx.beginPath();
      ctx.moveTo(xa[0], ca.bottom); ctx.lineTo(xa[xa.length - 1], ca.bottom);
      ctx.moveTo(ca.left, ya[0]); ctx.lineTo(ca.left, ya[ya.length - 1]);
      ctx.stroke();
      ctx.lineWidth = 1.8;
      ctx.beginPath();
      xa.forEach(px => { ctx.moveTo(px, ca.bottom); ctx.lineTo(px, ca.bottom + 5); });
      ya.forEach(py => { ctx.moveTo(ca.left, py); ctx.lineTo(ca.left - 5, py); });
      ctx.stroke();
      ctx.restore();
    },
    afterDatasetsDraw(chart) {
      const {ctx, scales: {x, y}} = chart;
      if (!s.arrows) return;
      ctx.save();
      ctx.strokeStyle = '#111'; ctx.fillStyle = '#111'; ctx.lineWidth = 1.4;
      s.arrows(ctx, (v) => ({x: x.getPixelForValue(v[0]), y: y.getPixelForValue(v[1])}));
      ctx.restore();
    },
    afterDraw(chart) {
      const {ctx, chartArea: ca} = chart;
      const parts = [
        {t: `Chromosome ${s.chr} percent (`, f: ''},
        {t: 'z', f: 'italic '},
        {t: '-score)', f: ''}
      ];
      ctx.save();
      ctx.fillStyle = INK; ctx.textBaseline = 'alphabetic'; ctx.textAlign = 'left';
      let total = 0;
      parts.forEach(p => { ctx.font = `${p.f}19.5px ${FONT}`; p.w = ctx.measureText(p.t).width; total += p.w; });
      let xx = (ca.left + ca.right) / 2 - total / 2;
      parts.forEach(p => { ctx.font = `${p.f}19.5px ${FONT}`; ctx.fillText(p.t, xx, s.titleBase); xx += p.w; });
      ctx.restore();
    }
  };
}

function build(s) {
  const [l, r, t, b] = s.area;
  const W = 401;
  new Chart(document.getElementById(s.id), {
    type: 'scatter',
    data: {datasets: s.sets},
    options: {
      responsive: false, animation: false, devicePixelRatio: 1,
      layout: {autoPadding: false, padding: {left: 0, right: W - r, top: t, bottom: 0}},
      plugins: {legend: {display: false}, tooltip: {enabled: false}},
      scales: {
        x: {
          type: 'linear', min: s.x[0], max: s.x[1],
          afterBuildTicks: sc => { sc.ticks = s.xTicks.map(v => ({value: v})); },
          afterFit: sc => { sc.height = s.h - b; },
          grid: {display: false, drawTicks: false}, border: {display: false},
          ticks: {autoSkip: false, maxRotation: 0, padding: 11, color: INK, font: {family: FONT, size: 19},
            callback: v => v < 0 ? '\u2013' + Math.abs(v) : String(v)}
        },
        y: {
          type: s.knots ? 'knot' : 'linear', min: s.y[0], max: s.y[1],
          beforeUpdate: sc => { if (s.knots) { sc.knotValues = s.knots[0]; sc.knotPos = s.knots[1]; } },
          afterBuildTicks: sc => { sc.ticks = s.yTicks.map(v => ({value: v})); },
          afterFit: sc => { sc.width = l; },
          grid: {display: false, drawTicks: false}, border: {display: false},
          ticks: {autoSkip: false, padding: 14, color: INK, font: {family: FONT, size: 19},
            callback: v => v.toFixed(2)},
          title: {display: true, text: `Chromosome ${s.chr} percent (MoM)`, color: INK,
            font: {family: FONT, size: 20, lineHeight: 1}, padding: {top: s.yTitlePad, bottom: 0}}
        }
      }
    },
    plugins: [framePlugin(s)]
  });
}

const CIRC = '#222';
const DOT = '#1c1c1c';

build({
  id: 'pa', chr: 18, h: 410, area: [86, 384, 29, 341.5], x: [-7.299, 41.642], y: [0.97271, 1.11073],
  xTicks: xTicksWide, xMinor: xTicksWide, yTicks: yTicksAC, yMinor: yMinorAC, yTitlePad: 1, titleBase: 403,
  sets: [
    set(aT18, 'rect', 5.2, '#1a1a1a', 1.4),
    set(aOther, 'rectRot', 3.6, '#777', 1, '#fff'),
    set(aNormal, 'circle', 1.8, DOT, 1)
  ],
  arrows: (ctx, px) => { const p = px(aT18[0]); arrow(ctx, p.x - 6, p.y + 10, p.x + 6, p.y + 10); }
});

build({
  id: 'pb', chr: 18, h: 410, area: [97, 393, 27, 340], x: [-0.2364, 5.1455], y: [0.99921, 1.02237],
  knots: [knotValsBF, knotPosBF],
  xTicks: xTicks05, xMinor: xTicks05, yTicks: yTicksBF, yMinor: yMinorBF, yTitlePad: 10.5, titleBase: 403,
  bands: [{x0: 0, x1: 4.95, y0: 1.0079, y1: 1.0088}, {x0: 3.47, x1: 3.87, y0: 1.00, y1: 1.02}],
  cut: {x: 3.0, y0: 1.00, y1: 1.0197},
  sets: [
    set(bT18, 'rect', 6, '#111', 1.8, '#fff'),
    set(bFlagCircle, 'circle', 3.2, '#111', 1.6, '#fff'),
    set(bFlagDiamond, 'rectRot', 3.8, '#111', 1.6, '#fff'),
    set(bOther, 'rectRot', 3, '#444', 0.9),
    set(bNormal.concat(bNormalCore), 'circle', 2.6, CIRC, 0.95)
  ]
});

build({
  id: 'pc', chr: 13, h: 410, area: [87, 384, 33.6, 343], x: [-7.42, 41.48], y: [0.97359, 1.1086],
  xTicks: xTicksWide, xMinor: xTicksWide, yTicks: yTicksAC, yMinor: yMinorAC, yTitlePad: 1, titleBase: 403,
  sets: [
    set(cT13, 'triangle', 4.6, '#111', 1.4, '#fff', 180),
    set(cT13Low, 'triangle', 4, '#666', 1, '#fff', 180),
    set(cOther, 'rect', 3.8, '#666', 1, '#fff'),
    set(cNormal, 'circle', 1.8, DOT, 1)
  ],
  arrows: (ctx, px) => {
    const p = px(cT13[0]);
    arrow(ctx, p.x - 9, p.y + 8, p.x - 9, p.y - 7);
    arrow(ctx, p.x - 7, p.y + 9, p.x + 11, p.y + 9);
  }
});

build({
  id: 'pd', chr: 13, h: 410, area: [97.3, 393, 30.5, 345.5], x: [-0.79, 15.44], y: [0.99831, 1.03267],
  xTicks: xTicksD, xMinor: xMinorD, yTicks: yTicksD, yMinor: yMinorD, yTitlePad: 10.5, titleBase: 403,
  bands: [{x0: 0, x1: 15, y0: 1.0162, y1: 1.0205}, {x0: 6.55, x1: 7.22, y0: 1.00, y1: 1.03}],
  cut: {x: 3.0, y0: 1.00, y1: 1.0297},
  sets: [
    set(dT13, 'triangle', 5, '#111', 1.6, '#fff', 180),
    set(dFlagCircle, 'circle', 3.2, '#111', 1.5, '#fff'),
    set(dOther, 'rect', 3.5, '#666', 1, '#fff'),
    set(dNormal.concat(dNormalCore), 'circle', 2.7, CIRC, 0.95)
  ]
});

build({
  id: 'pe', chr: 21, h: 408, area: [86, 384, 25.5, 339.5], x: [-6.788, 31.277], y: [0.97209, 1.1662],
  xTicks: xTicksE, xMinor: xTicksE, yTicks: yTicksE, yMinor: yMinorE, yTitlePad: 1, titleBase: 402.7,
  sets: [
    set(eT21, 'rectRot', 5.2, '#111', 1.5),
    set(eOther, 'triangle', 3, '#888', 0.9, '#fff', 180),
    set(eNormal, 'circle', 1.8, DOT, 1)
  ],
  arrows: (ctx, px) => {
    const u = px([30.0, 1.1196]), d = px([29.9, 1.1107]);
    arrow(ctx, u.x - 9, u.y - 8, u.x + 7, u.y - 8);
    ctx.beginPath(); ctx.moveTo(u.x - 9, u.y - 8); ctx.lineTo(u.x - 9, u.y + 2); ctx.stroke();
    arrow(ctx, d.x - 9, d.y + 10, d.x + 7, d.y + 10);
    ctx.beginPath(); ctx.moveTo(d.x - 9, d.y + 10); ctx.lineTo(d.x - 9, d.y); ctx.stroke();
  }
});

build({
  id: 'pf', chr: 21, h: 408, area: [96.7, 396, 30, 340], x: [-0.256, 5.22], y: [0.999085, 1.02199],
  knots: [knotValsBF, knotPosBF],
  xTicks: xTicks05, xMinor: xTicks05, yTicks: yTicksBF, yMinor: yMinorBF, yTitlePad: 10.5, titleBase: 402.7,
  bands: [{x0: 0, x1: 5, y0: 1.0109, y1: 1.0152}],
  cut: {x: 3.0, y0: null, y1: 1.0201},
  sets: [
    set(fT21, 'rectRot', 5.5, '#111', 1.8, '#fff'),
    set(fOther, 'triangle', 3, '#666', 0.9, '#fff', 180),
    set(fNormal.concat(fNormalCore), 'circle', 2.7, CIRC, 0.95)
  ]
});
</script>
</body>
</html>
